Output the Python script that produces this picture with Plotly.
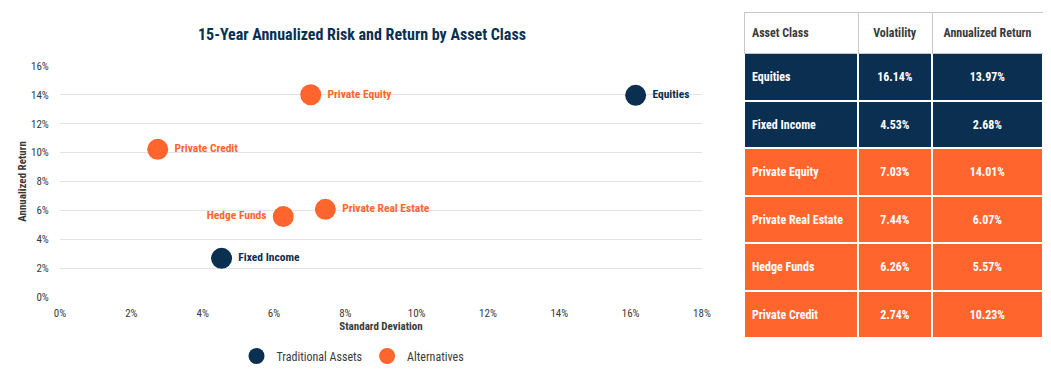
import plotly.graph_objects as go

# ---- data ----
asset_classes = ["Equities", "Fixed Income", "Private Equity", "Private Real Estate", "Hedge Funds", "Private Credit"]
volatility = [16.14, 4.53, 7.03, 7.44, 6.26, 2.74]
annual_return = [13.97, 2.68, 14.01, 6.07, 5.57, 10.23]
groups = ["Traditional Assets", "Traditional Assets", "Alternatives", "Alternatives", "Alternatives", "Alternatives"]
x_ticks = [0, 2, 4, 6, 8, 10, 12, 14, 16, 18]
y_ticks = [0, 2, 4, 6, 8, 10, 12, 14, 16]
table_headers = ["Asset Class", "Volatility", "Annualized Return"]

NAVY = "#0A2F50"
ORANGE = "#FF652D"
GRAY_TXT = "#3A3A3A"
FONT = "Roboto Condensed, DejaVu Sans Condensed, sans-serif"
# page has an 8px body margin: figure is drawn at (8, 8)
OFF = 8
W, H = 1051 - OFF, 375 - OFF


def px(x):
    return (x - OFF) / W


def py(y):
    return 1 - (y - OFF) / H


colors = {"Traditional Assets": NAVY, "Alternatives": ORANGE}

fig = go.Figure()

for g in ["Traditional Assets", "Alternatives"]:
    idx = [i for i, gg in enumerate(groups) if gg == g]
    left = [asset_classes[i] == "Hedge Funds" for i in idx]
    fig.add_trace(go.Scatter(
        x=[volatility[i] for i in idx],
        y=[annual_return[i] for i in idx],
        mode="markers+text",
        name=g,
        text=[("<b>%s</b> " if lf else " <b>%s</b>") % asset_classes[i] for i, lf in zip(idx, left)],
        textposition=["middle left" if lf else "middle right" for lf in left],
        textfont=dict(family=FONT, size=11.5, color=colors[g]),
        marker=dict(size=21, color=colors[g], line=dict(width=0)),
        cliponaxis=False,
        hoverinfo="skip",
    ))

# table: background layer (fills + borders), then text layer nudged down to centre text vertically
fill_row = [NAVY if g == "Traditional Assets" else ORANGE for g in groups]
col_widths = [114, 74, 111]
header_vals = ["<b>%s</b>" % h for h in table_headers]
cell_vals = [
    ["<b>%s</b>" % a for a in asset_classes],
    ["<b>%.2f%%</b>" % v for v in volatility],
    ["<b>%.2f%%</b>" % r for r in annual_return],
]
TOP, HDR, ROW = 12, 41, 47.5
bottom = TOP + HDR + ROW * len(asset_classes)

fig.add_trace(go.Table(
    domain=dict(x=[px(744), px(1043)], y=[py(bottom), py(TOP)]),
    columnwidth=col_widths,
    header=dict(values=["", "", ""], fill_color="white",
                line=dict(color="#C8C8C8", width=1), height=HDR),
    cells=dict(values=[[""] * len(asset_classes)] * 3,
               fill_color=[fill_row, fill_row, fill_row],
               line=dict(color="white", width=2), height=ROW),
))

H_SHIFT, R_SHIFT = 6, 9
fig.add_trace(go.Table(
    domain=dict(x=[px(744), px(1043)], y=[py(bottom + R_SHIFT), py(TOP + H_SHIFT)]),
    columnwidth=col_widths,
    header=dict(values=header_vals, fill_color="rgba(0,0,0,0)",
                line=dict(color="rgba(0,0,0,0)", width=0),
                align=["left", "center", "center"],
                font=dict(family=FONT, size=12, color=GRAY_TXT),
                height=HDR + R_SHIFT - H_SHIFT),
    cells=dict(values=cell_vals, fill_color="rgba(0,0,0,0)",
               line=dict(color="rgba(0,0,0,0)", width=0),
               align=["left", "center", "center"],
               font=dict(family=FONT, size=12, color="white"),
               height=ROW),
))

fig.update_layout(
    width=W, height=H,
    margin=dict(l=0, r=0, t=0, b=0, autoexpand=False),
    paper_bgcolor="white", plot_bgcolor="white",
    showlegend=True,
    legend=dict(orientation="h", x=px(353), xanchor="center", y=py(356), yanchor="middle",
                font=dict(family=FONT, size=12, color=GRAY_TXT)),
    xaxis=dict(domain=[px(60), px(702)], range=[0, 18], tickvals=x_ticks, automargin=False,
               ticktext=["%d%%" % t for t in x_ticks], showgrid=False, zeroline=False,
               showline=False, ticks="outside", ticklen=6, tickcolor="rgba(0,0,0,0)",
               tickfont=dict(family=FONT, size=11, color=GRAY_TXT),
               title=dict(text="<b>Standard Deviation</b>", font=dict(family=FONT, size=11, color=GRAY_TXT), standoff=3),
               fixedrange=True),
    yaxis=dict(domain=[py(297), py(66)], range=[0, 16], tickvals=y_ticks, automargin=False,
               ticktext=["%d%%" % t for t in y_ticks], showgrid=True, gridcolor="#E3E3E3", gridwidth=1,
               zeroline=False, showline=False, ticks="outside", ticklen=8, tickcolor="rgba(0,0,0,0)",
               tickfont=dict(family=FONT, size=11, color=GRAY_TXT),
               title=dict(text="<b>Annualized Return</b>", font=dict(family=FONT, size=11, color=GRAY_TXT), standoff=2),
               fixedrange=True),
    annotations=[dict(text="<b>15-Year Annualized Risk and Return by Asset Class</b>", x=px(362), y=py(34),
                      xref="paper", yref="paper", xanchor="center", yanchor="middle", showarrow=False,
                      font=dict(family=FONT, size=16, color=NAVY))],
)

fig.write_html("out.html")
